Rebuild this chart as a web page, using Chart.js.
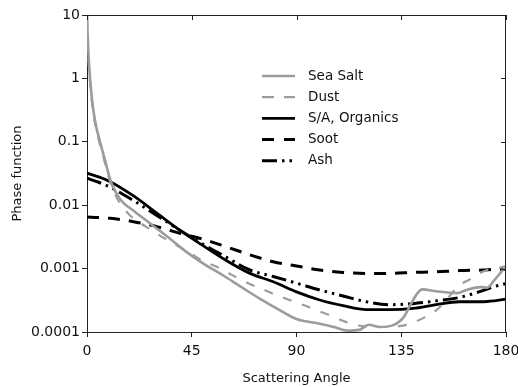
<!DOCTYPE html>
<html><head><meta charset="utf-8">
<script src="https://cdn.jsdelivr.net/npm/chart.js@4"></script>
<style>html,body{margin:0;padding:0;background:#fff}#wrap{width:518px;height:387px}</style>
</head><body><div id="wrap"><canvas id="c" width="518" height="387"></canvas></div>
<script>
const seriesNames = ['Sea Salt', 'Dust', 'S/A, Organics', 'Soot', 'Ash'];

const seaSaltAngle = [0, 0.5, 1.3, 2.5, 4, 5.6, 7.7, 10, 12, 15, 20, 27, 35, 43, 50, 58, 66, 74, 82, 90, 100, 106, 112, 117, 121, 126, 131, 136, 139, 142, 144, 150, 155, 159, 163, 169, 172, 175, 178, 180];
const seaSaltValue = [10, 3, 1.0, 0.36, 0.17, 0.1, 0.052, 0.025, 0.017, 0.0115, 0.0082, 0.0052, 0.0031, 0.0018, 0.0012, 0.0008, 0.00052, 0.00034, 0.00023, 0.00016, 0.000135, 0.00012, 0.000105, 0.000108, 0.00013, 0.00012, 0.000126, 0.00017, 0.00027, 0.00041, 0.00047, 0.00044, 0.00042, 0.00041, 0.00046, 0.00051, 0.0005, 0.00066, 0.00089, 0.00107];

const dustAngle = [0, 0.5, 1.3, 2.5, 4, 5.6, 7.7, 10, 12, 14, 18, 22, 27, 32, 37, 45, 50, 55, 60, 65, 70, 75, 80, 85, 90, 95, 100, 105, 110, 115, 120, 125, 130, 135, 140, 145, 150, 153, 157, 160, 164, 168, 172, 176, 180];
const dustValue = [9, 2.7, 0.9, 0.32, 0.155, 0.09, 0.047, 0.023, 0.015, 0.011, 0.0072, 0.0055, 0.0042, 0.0032, 0.0025, 0.0017, 0.0013, 0.0011, 0.00088, 0.0007, 0.00057, 0.00048, 0.0004, 0.00034, 0.00029, 0.00025, 0.00021, 0.00018, 0.00015, 0.00013, 0.000122, 0.00012, 0.00012, 0.000125, 0.00014, 0.00017, 0.00022, 0.00028, 0.00042, 0.00055, 0.00066, 0.00082, 0.00095, 0.001, 0.0011];

const smoothAngle = [0, 5, 10, 20, 30, 40, 50, 60, 70, 80, 90, 100, 110, 120, 130, 140, 150, 160, 170, 175, 180];
const saOrgValue = [0.032, 0.028, 0.0235, 0.014, 0.0075, 0.004, 0.00228, 0.00133, 0.00084, 0.00062, 0.00043, 0.00032, 0.00026, 0.000225, 0.000225, 0.000235, 0.00027, 0.0003, 0.0003, 0.00031, 0.00033];
const sootValue = [0.0065, 0.0064, 0.0062, 0.0055, 0.0046, 0.0036, 0.0029, 0.0022, 0.00165, 0.00128, 0.0011, 0.00095, 0.00087, 0.00084, 0.00084, 0.00087, 0.00089, 0.00093, 0.00095, 0.00097, 0.00098];
const ashValue = [0.0266, 0.023, 0.0192, 0.0118, 0.0069, 0.004, 0.0024, 0.0015, 0.00095, 0.00075, 0.00059, 0.00046, 0.00037, 0.0003, 0.00027, 0.00028, 0.00031, 0.00035, 0.00045, 0.00052, 0.00058];

const xTicks = [0, 45, 90, 135, 180];
const yTicks = [10, 1, 0.1, 0.01, 0.001, 0.0001];
const yTickLabels = ['10', '1', '0.1', '0.01', '0.001', '0.0001'];

function pts(a, v) { return a.map((x, i) => ({x: x, y: v[i]})); }

const FONT = 'DejaVu Sans';
const AXIS = '#222';

const styles = [
  {color: '#9c9c9c', width: 2.6, dash: []},
  {color: '#9c9c9c', width: 2.2, dash: [9, 11]},
  {color: '#000', width: 2.8, dash: []},
  {color: '#000', width: 3, dash: [12, 9]},
  {color: '#000', width: 3, dash: [15, 5, 2.5, 5, 2.5, 5]}
];
const seriesData = [
  pts(seaSaltAngle, seaSaltValue),
  pts(dustAngle, dustValue),
  pts(smoothAngle, saOrgValue),
  pts(smoothAngle, sootValue),
  pts(smoothAngle, ashValue)
];

const datasets = seriesNames.map((n, i) => ({
  label: n,
  data: seriesData[i],
  borderColor: styles[i].color,
  borderWidth: styles[i].width,
  borderDash: styles[i].dash,
  borderCapStyle: 'butt',
  pointRadius: 0,
  fill: false,
  cubicInterpolationMode: 'monotone'
}));

const framePlugin = {
  id: 'frame',
  afterDraw(chart) {
    const {ctx, chartArea: a, scales} = chart;
    ctx.save();
    ctx.strokeStyle = AXIS;
    ctx.lineWidth = 1;
    ctx.beginPath();
    ctx.moveTo(a.left, a.top + 0.5); ctx.lineTo(a.right, a.top + 0.5);
    ctx.moveTo(a.right - 0.5, a.top); ctx.lineTo(a.right - 0.5, a.bottom);
    xTicks.forEach(v => {
      const x = Math.round(scales.x.getPixelForValue(v)) + 0.5;
      ctx.moveTo(x, a.top); ctx.lineTo(x, a.top + 5);
    });
    yTicks.forEach(v => {
      const y = Math.round(scales.y.getPixelForValue(v)) + 0.5;
      ctx.moveTo(a.right, y); ctx.lineTo(a.right - 5, y);
    });
    ctx.stroke();
    ctx.restore();
  }
};

const legendPlugin = {
  id: 'innerLegend',
  afterDatasetsDraw(chart) {
    const ctx = chart.ctx;
    const x0 = 262, x1 = 295, tx = 308, y0 = 76, dy = 21.2;
    ctx.save();
    chart.data.datasets.forEach((ds, i) => {
      const y = y0 + i * dy;
      ctx.beginPath();
      ctx.strokeStyle = ds.borderColor;
      ctx.lineWidth = ds.borderWidth;
      ctx.lineCap = 'butt';
      let dash = ds.borderDash;
      if (i === 1 || i === 3) dash = [12, 10];
      ctx.setLineDash(dash);
      ctx.moveTo(x0, y); ctx.lineTo(x1, y);
      ctx.stroke();
      ctx.setLineDash([]);
      ctx.fillStyle = '#111';
      ctx.font = '13.5px "' + FONT + '"';
      ctx.textBaseline = 'middle';
      ctx.textAlign = 'left';
      ctx.fillText(ds.label, tx, y);
    });
    ctx.restore();
  }
};

new Chart(document.getElementById('c'), {
  type: 'line',
  data: {datasets: datasets},
  options: {
    responsive: false,
    animation: false,
    devicePixelRatio: 1,
    layout: {padding: {top: 15, right: 12, left: 0, bottom: 0}},
    plugins: {legend: {display: false}, tooltip: {enabled: false}},
    scales: {
      x: {
        type: 'linear', min: 0, max: 180,
        afterBuildTicks: s => { s.ticks = xTicks.map(v => ({value: v})); },
        afterFit: s => { s.height = 55; s.paddingLeft = 0; s.paddingRight = 0; },
        ticks: {font: {family: FONT, size: 14}, color: '#111', padding: 6, maxRotation: 0, autoSkip: false},
        grid: {drawOnChartArea: false, drawTicks: true, tickLength: 5, color: AXIS, lineWidth: 1},
        border: {display: true, color: AXIS, width: 1},
        title: {display: true, text: 'Scattering Angle', font: {family: FONT, size: 13}, color: '#111', padding: {top: 0, bottom: 1}}
      },
      y: {
        type: 'logarithmic', min: 0.0001, max: 10,
        afterBuildTicks: s => { s.ticks = yTicks.map(v => ({value: v})); },
        afterFit: s => { s.width = 87; s.paddingTop = 0; s.paddingBottom = 0; },
        ticks: {font: {family: FONT, size: 14}, color: '#111', padding: 2, autoSkip: false,
          callback: (v) => { const k = yTicks.findIndex(t => Math.abs(t - v) / t < 1e-6); return k >= 0 ? yTickLabels[k] : ''; }},
        grid: {drawOnChartArea: false, drawTicks: true, tickLength: 5, color: AXIS, lineWidth: 1},
        border: {display: true, color: AXIS, width: 1},
        title: {display: true, text: 'Phase function', font: {family: FONT, size: 13}, color: '#111', padding: {top: 10, bottom: 0}}
      }
    }
  },
  plugins: [framePlugin, legendPlugin]
});
</script>
</body></html>
